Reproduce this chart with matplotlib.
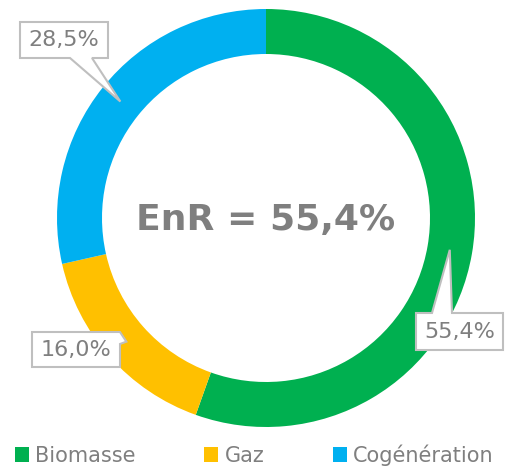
import numpy as np
import matplotlib.pyplot as plt
from matplotlib.patches import Polygon

labels = ['Biomasse', 'Gaz', 'Cogénération']
values = [55.4, 16.0, 28.5]
value_labels = ['55,4%', '16,0%', '28,5%']
colors = ['#00B050', '#FFC000', '#00B0F0']
center_text = 'EnR = 55,4%'

W, H = 514, 470
cx, cy, R = 266, H - 218, 209
ring = 45

fig = plt.figure(figsize=(W / 100, H / 100), dpi=100)
ax = fig.add_axes([0, 0, 1, 1])
wedges, _ = ax.pie(values, colors=colors, startangle=90, counterclock=False,
                   center=(cx, cy), radius=R,
                   wedgeprops=dict(width=ring, edgecolor='none'))
ax.set_xlim(0, W)
ax.set_ylim(0, H)
ax.set_aspect('equal')
ax.axis('off')

ax.text(cx, H - 220, center_text, ha='center', va='center', fontsize=26,
        fontweight='bold', color='#7F7F7F')

# callout boxes (image px: x0, x1, y0, y1) and where the pointer leaves the box
boxes = [(416, 503, 313, 350), (32, 120, 332, 367), (20, 108, 22, 58)]
sides = ['top', 'right', 'bottom']

total = sum(values)
start = 90
for w, lab, box, side, v in zip(wedges, value_labels, boxes, sides, values):
    mid = np.deg2rad(start - v / total * 360 / 2)
    start -= v / total * 360
    r = R - ring / 2
    tx, ty = cx + r * np.cos(mid), cy + r * np.sin(mid)
    x0, x1, y0, y1 = box
    Y0, Y1 = H - y0, H - y1
    if side == 'top':
        pts = [(x0, Y0), (x0 + 16, Y0), (tx, ty), (x0 + 36, Y0), (x1, Y0), (x1, Y1), (x0, Y1)]
    elif side == 'right':
        pts = [(x0, Y0), (x1, Y0), (tx, ty), (x1, Y0 - 12), (x1, Y1), (x0, Y1)]
    else:
        pts = [(x0, Y0), (x1, Y0), (x1, Y1), (x0 + 72, Y1), (tx, ty), (x0 + 50, Y1), (x0, Y1)]
    ax.add_patch(Polygon(pts, closed=True, facecolor='white', edgecolor='#BFBFBF', lw=1.5, zorder=5))
    ax.text((x0 + x1) / 2, (Y0 + Y1) / 2, lab, ha='center', va='center', fontsize=16,
            color='#7F7F7F', zorder=6)

fig.legend(wedges, labels, loc='center left', bbox_to_anchor=(15 / W, 1 - 455 / H),
           ncol=3, frameon=False, fontsize=15, labelcolor='#7F7F7F', borderpad=0,
           borderaxespad=0, handlelength=0.67, handleheight=0.67, handletextpad=0.3,
           columnspacing=3.3)

fig.savefig('out.png', dpi=100)
